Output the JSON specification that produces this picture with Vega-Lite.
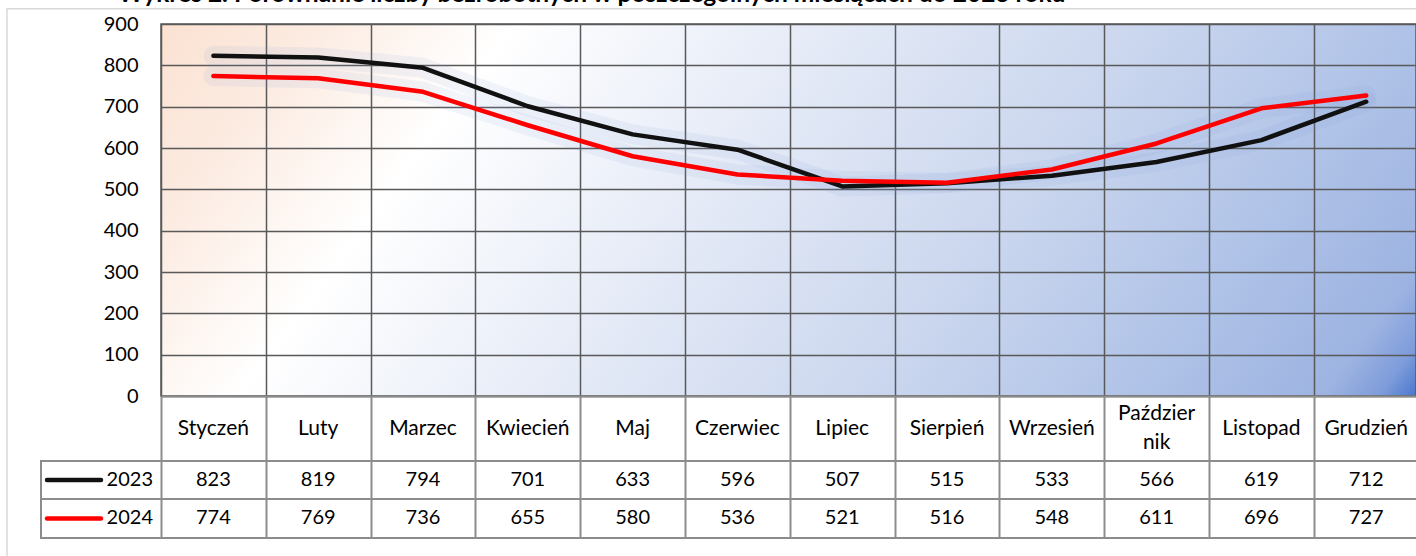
{
  "$schema": "https://vega.github.io/schema/vega-lite/v6.json",
  "autosize": {"type": "none"},
  "padding": {"left": 161, "top": 24, "right": 0, "bottom": 160},
  "width": 1255,
  "height": 372,
  "background": "white",
  "title": {
    "text": "Wykres 2. Porównanie liczby bezrobotnych w poszczególnych miesiącach do 2023 roku",
    "anchor": "start",
    "frame": "group",
    "dx": -43,
    "dy": 23,
    "baseline": "alphabetic",
    "font": "Lato",
    "fontSize": 24.5,
    "fontWeight": "bold",
    "color": "#000000",
    "limit": 0
  },
  "config": {
    "font": "Lato",
    "view": {
      "stroke": "#595959",
      "strokeWidth": 1.5,
      "fill": {
        "gradient": "linear",
        "x1": 0, "y1": 0, "x2": 1.1637, "y2": 0.256,
        "stops": [
          {"offset": 0, "color": "#fbe2d2"},
          {"offset": 0.1, "color": "#fcebe1"},
          {"offset": 0.23, "color": "#ffffff"},
          {"offset": 0.45, "color": "#e3e9f6"},
          {"offset": 0.65, "color": "#cad6ee"},
          {"offset": 0.82, "color": "#afc2e7"},
          {"offset": 0.94, "color": "#9db3e1"},
          {"offset": 0.975, "color": "#7f9ddb"},
          {"offset": 1, "color": "#4a78cc"}
        ]
      }
    },
    "axisX": {
      "labels": false,
      "grid": true,
      "gridColor": "#595959",
      "gridWidth": 1.5,
      "ticks": true,
      "tickSize": 142,
      "tickColor": "#8c8c8c",
      "tickWidth": 2,
      "domain": true,
      "domainColor": "#8c8c8c",
      "domainWidth": 2
    },
    "axisY": {
      "grid": true,
      "gridColor": "#595959",
      "gridWidth": 1.5,
      "ticks": false,
      "domain": false,
      "labelFont": "Lato",
      "labelFontSize": 20,
      "labelColor": "#000000",
      "labelPadding": 23
    }
  },
  "data": {
    "values": [
      {"month": "Styczeń", "m": 1, "year": "2023", "value": 823},
      {"month": "Luty", "m": 2, "year": "2023", "value": 819},
      {"month": "Marzec", "m": 3, "year": "2023", "value": 794},
      {"month": "Kwiecień", "m": 4, "year": "2023", "value": 701},
      {"month": "Maj", "m": 5, "year": "2023", "value": 633},
      {"month": "Czerwiec", "m": 6, "year": "2023", "value": 596},
      {"month": "Lipiec", "m": 7, "year": "2023", "value": 507},
      {"month": "Sierpień", "m": 8, "year": "2023", "value": 515},
      {"month": "Wrzesień", "m": 9, "year": "2023", "value": 533},
      {"month": "Październik", "m": 10, "year": "2023", "value": 566},
      {"month": "Listopad", "m": 11, "year": "2023", "value": 619},
      {"month": "Grudzień", "m": 12, "year": "2023", "value": 712},
      {"month": "Styczeń", "m": 1, "year": "2024", "value": 774},
      {"month": "Luty", "m": 2, "year": "2024", "value": 769},
      {"month": "Marzec", "m": 3, "year": "2024", "value": 736},
      {"month": "Kwiecień", "m": 4, "year": "2024", "value": 655},
      {"month": "Maj", "m": 5, "year": "2024", "value": 580},
      {"month": "Czerwiec", "m": 6, "year": "2024", "value": 536},
      {"month": "Lipiec", "m": 7, "year": "2024", "value": 521},
      {"month": "Sierpień", "m": 8, "year": "2024", "value": 516},
      {"month": "Wrzesień", "m": 9, "year": "2024", "value": 548},
      {"month": "Październik", "m": 10, "year": "2024", "value": 611},
      {"month": "Listopad", "m": 11, "year": "2024", "value": 696},
      {"month": "Grudzień", "m": 12, "year": "2024", "value": 727}
    ]
  },
  "layer": [
    {
      "mark": {"type": "line", "stroke": "#7f9ad8", "strokeWidth": 20, "opacity": 0.1, "strokeJoin": "round", "strokeCap": "round"},
      "encoding": {
        "x": {
          "field": "m", "type": "quantitative", "title": null,
          "scale": {"domain": [0.5, 12.475], "nice": false, "zero": false},
          "axis": {"values": [0.5, 1.5, 2.5, 3.5, 4.5, 5.5, 6.5, 7.5, 8.5, 9.5, 10.5, 11.5, 12.5], "labels": false}
        },
        "y": {
          "field": "value", "type": "quantitative", "title": null,
          "scale": {"domain": [0, 900], "nice": false, "zero": false},
          "axis": {"values": [0, 100, 200, 300, 400, 500, 600, 700, 800, 900]}
        },
        "detail": {"field": "year"}
      }
    },
    {
      "data": {"values": [{}]},
      "mark": {"type": "rect", "fill": "transparent", "stroke": "#d9d9d9", "strokeWidth": 1.5},
      "encoding": {
        "x": {"datum": -0.9695, "type": "quantitative"},
        "x2": {"datum": 14},
        "y": {"datum": 937, "type": "quantitative"},
        "y2": {"datum": -400}
      }
    },
    {
      "data": {"values": [{}]},
      "mark": {"type": "rect", "fill": "transparent", "stroke": "#8c8c8c", "strokeWidth": 2},
      "encoding": {
        "x": {"datum": -0.645, "type": "quantitative"},
        "x2": {"datum": 14},
        "y": {"datum": -157.26, "type": "quantitative"},
        "y2": {"datum": -343.55}
      }
    },
    {
      "data": {"values": [{}]},
      "mark": {"type": "rule", "stroke": "#8c8c8c", "strokeWidth": 2},
      "encoding": {
        "x": {"datum": -0.645, "type": "quantitative"},
        "x2": {"datum": 14},
        "y": {"datum": -249.19, "type": "quantitative"}
      }
    },
    {
      "mark": {"type": "line", "strokeWidth": 4.5, "strokeJoin": "round", "strokeCap": "round"},
      "encoding": {
        "x": {"field": "m", "type": "quantitative", "title": null},
        "y": {"field": "value", "type": "quantitative", "title": null},
        "color": {
          "field": "year", "type": "nominal", "legend": null,
          "scale": {"domain": ["2023", "2024"], "range": ["#111111", "#ff0000"]}
        }
      }
    },
    {
      "transform": [{"filter": "datum.year == '2023' && datum.m != 10"}],
      "mark": {"type": "text", "fontSize": 21, "font": "Lato", "color": "#000000", "baseline": "middle", "align": "center"},
      "encoding": {
        "x": {"field": "m", "type": "quantitative", "title": null},
        "y": {"datum": -78.63, "type": "quantitative"},
        "text": {"field": "month"}
      }
    },
    {
      "transform": [
        {"filter": "datum.year == '2023' && datum.m == 10"},
        {"calculate": "['Paździer', 'nik']", "as": "label"}
      ],
      "mark": {"type": "text", "fontSize": 21, "font": "Lato", "color": "#000000", "baseline": "middle", "align": "center", "lineHeight": 29, "dy": -14.5},
      "encoding": {
        "x": {"field": "m", "type": "quantitative", "title": null},
        "y": {"datum": -78.63, "type": "quantitative"},
        "text": {"field": "label"}
      }
    },
    {
      "transform": [{"filter": "datum.year == '2023'"}],
      "mark": {"type": "text", "fontSize": 20, "font": "Lato", "color": "#000000", "baseline": "middle", "align": "center"},
      "encoding": {
        "x": {"field": "m", "type": "quantitative", "title": null},
        "y": {"datum": -203.2, "type": "quantitative"},
        "text": {"field": "value", "type": "quantitative"}
      }
    },
    {
      "transform": [{"filter": "datum.year == '2024'"}],
      "mark": {"type": "text", "fontSize": 20, "font": "Lato", "color": "#000000", "baseline": "middle", "align": "center"},
      "encoding": {
        "x": {"field": "m", "type": "quantitative", "title": null},
        "y": {"datum": -296.37, "type": "quantitative"},
        "text": {"field": "value", "type": "quantitative"}
      }
    },
    {
      "transform": [{"filter": "datum.year == '2023' && datum.m == 1"}],
      "mark": {"type": "rule", "stroke": "#111111", "strokeWidth": 4.5, "strokeCap": "round"},
      "encoding": {
        "x": {"datum": -0.5878, "type": "quantitative"},
        "x2": {"datum": -0.0725},
        "y": {"datum": -203.2, "type": "quantitative"}
      }
    },
    {
      "transform": [{"filter": "datum.year == '2024' && datum.m == 1"}],
      "mark": {"type": "rule", "stroke": "#ff0000", "strokeWidth": 4.5, "strokeCap": "round"},
      "encoding": {
        "x": {"datum": -0.5878, "type": "quantitative"},
        "x2": {"datum": -0.0725},
        "y": {"datum": -296.37, "type": "quantitative"}
      }
    },
    {
      "transform": [{"filter": "datum.year == '2023' && datum.m == 1"}],
      "mark": {"type": "text", "fontSize": 20, "font": "Lato", "color": "#000000", "baseline": "middle", "align": "right"},
      "encoding": {
        "x": {"datum": 0.4237, "type": "quantitative"},
        "y": {"datum": -203.2, "type": "quantitative"},
        "text": {"field": "year"}
      }
    },
    {
      "transform": [{"filter": "datum.year == '2024' && datum.m == 1"}],
      "mark": {"type": "text", "fontSize": 20, "font": "Lato", "color": "#000000", "baseline": "middle", "align": "right"},
      "encoding": {
        "x": {"datum": 0.4237, "type": "quantitative"},
        "y": {"datum": -296.37, "type": "quantitative"},
        "text": {"field": "year"}
      }
    }
  ]
}
